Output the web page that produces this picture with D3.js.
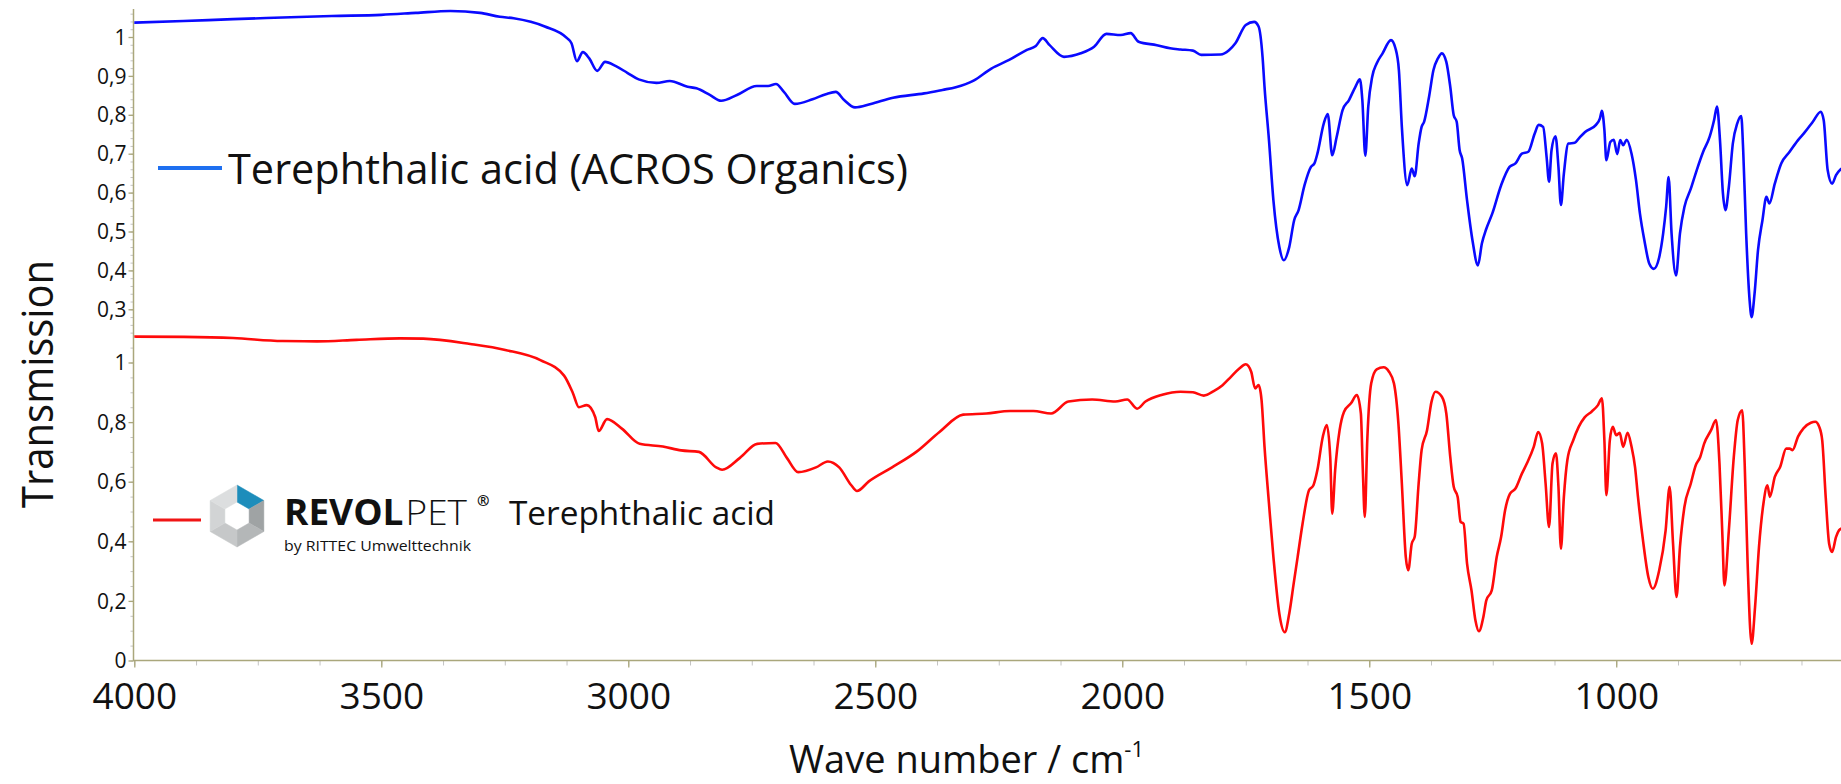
<!DOCTYPE html>
<html>
<head>
<meta charset="utf-8">
<script src="https://cdn.jsdelivr.net/npm/d3@7"></script>
<style>
  html, body { margin: 0; padding: 0; background: #fff; }
  svg { display: block; }
  text { font-family: "Open Sans", "DejaVu Sans", sans-serif; fill: #111; }
</style>
</head>
<body>
<div class="chart"></div>
<script>
// wave numbers (cm-1) and transmission
const acrosWn = [4000, 3900, 3800, 3700, 3600, 3500, 3430, 3360, 3300, 3260, 3232, 3169, 3124, 3115, 3104, 3092, 3079, 3063, 3047, 3025, 3002, 2979, 2943, 2916, 2880, 2862, 2835, 2812, 2780, 2740, 2717, 2701, 2685, 2663, 2627, 2600, 2580, 2563, 2541, 2509, 2464, 2401, 2364, 2337, 2301, 2265, 2229, 2193, 2175, 2161, 2147, 2118, 2084, 2057, 2032, 2003, 1983, 1967, 1930, 1903, 1882,
  1857, 1840, 1801, 1784, 1771, 1750, 1733, 1724, 1716, 1712, 1703, 1694, 1682, 1673, 1662, 1652, 1643, 1631, 1618, 1611, 1605, 1592, 1584, 1575, 1566, 1554, 1541, 1528, 1519, 1514, 1508, 1502, 1494, 1485, 1473, 1456, 1447, 1440, 1434, 1423, 1414, 1408, 1400, 1394, 1389, 1379, 1370, 1361, 1353, 1344, 1336, 1329, 1323, 1317, 1312, 1302, 1291, 1280, 1272, 1263, 1251, 1233, 1216, 1204, 1191, 1178, 1165, 1157, 1148, 1141, 1136, 1131, 1123, 1117, 1112, 1106, 1097, 1084, 1076, 1063, 1041, 1033, 1029, 1024, 1020, 1012, 1005, 998, 992, 986, 979, 969, 960, 952, 943, 933, 924, 913, 905, 899, 894, 888, 879, 871, 862, 849, 837, 824, 811, 802, 796, 790, 784, 779, 772, 764, 755, 747, 743, 737, 730, 726, 720, 713, 704, 696, 690, 679, 666, 649, 632, 619, 602, 586, 580, 572, 563, 555, 544];
const acrosT = [1.037, 1.041, 1.046, 1.050, 1.054, 1.057, 1.062, 1.067, 1.062, 1.052, 1.048, 1.027, 0.997, 0.984, 0.938, 0.961, 0.945, 0.913, 0.936, 0.925, 0.908, 0.891, 0.882, 0.887, 0.872, 0.868, 0.851, 0.836, 0.851, 0.874, 0.874, 0.879, 0.859, 0.828, 0.840, 0.853, 0.859, 0.838, 0.819, 0.828, 0.844, 0.855, 0.864, 0.871, 0.888, 0.919, 0.941, 0.967, 0.977, 0.997, 0.979, 0.949, 0.958, 0.975, 1.008, 1.005, 1.010, 0.988, 0.979, 0.971, 0.968,
  0.965, 0.954, 0.955, 0.966, 0.984, 1.031, 1.039, 1.027, 0.949, 0.872, 0.735, 0.580, 0.460, 0.426, 0.460, 0.529, 0.555, 0.619, 0.666, 0.675, 0.700, 0.778, 0.802, 0.696, 0.743, 0.812, 0.838, 0.872, 0.891, 0.838, 0.695, 0.821, 0.898, 0.932, 0.958, 0.992, 0.971, 0.915, 0.769, 0.619, 0.662, 0.642, 0.726, 0.769, 0.782, 0.846, 0.915, 0.945, 0.958, 0.936, 0.872, 0.799, 0.782, 0.709, 0.688, 0.580, 0.477, 0.413, 0.469, 0.507, 0.546, 0.619, 0.666, 0.675, 0.700, 0.705, 0.752, 0.774, 0.769, 0.692, 0.628, 0.709, 0.745, 0.666, 0.568, 0.649, 0.726, 0.728, 0.739, 0.756, 0.774, 0.791, 0.810, 0.761, 0.683, 0.730, 0.736, 0.699, 0.735, 0.722, 0.736, 0.700, 0.632, 0.546, 0.477, 0.417, 0.404, 0.434, 0.495, 0.563, 0.640, 0.495, 0.387, 0.495, 0.563, 0.610, 0.658, 0.705, 0.743, 0.786, 0.821, 0.735, 0.598, 0.555, 0.615, 0.726, 0.778, 0.797, 0.709, 0.495, 0.323, 0.280, 0.340, 0.452, 0.529, 0.589, 0.572, 0.623, 0.675, 0.705, 0.735, 0.754, 0.782, 0.808, 0.786, 0.658, 0.623, 0.645, 0.662];

const revolWn = [4000, 3900, 3800, 3700, 3630, 3550, 3462, 3415, 3320, 3249, 3178, 3130, 3112, 3100, 3084, 3067, 3060, 3043, 3013, 2977, 2930, 2893, 2857, 2822, 2810, 2774, 2739, 2702, 2679, 2656, 2620, 2596, 2573, 2549, 2537, 2513, 2466, 2417, 2370, 2322, 2275, 2227, 2180, 2144, 2109, 2061, 2014, 1990, 1970, 1953, 1919, 1882,
  1857, 1835, 1814, 1797, 1780, 1763, 1750, 1739, 1731, 1724, 1718, 1712, 1703, 1694, 1682, 1671, 1662, 1653, 1645, 1635, 1622, 1613, 1605, 1594, 1586, 1579, 1575, 1569, 1560, 1551, 1537, 1525, 1517, 1513, 1509, 1504, 1496, 1485, 1471, 1460, 1450, 1441, 1434, 1426, 1421, 1414, 1408, 1400, 1394, 1383, 1374, 1366, 1353, 1344, 1336, 1329, 1321, 1315, 1309, 1302, 1293, 1285, 1278, 1269, 1263, 1252, 1242, 1233, 1225, 1215, 1204, 1191, 1181, 1167, 1158, 1150, 1143, 1136, 1129, 1122, 1117, 1112, 1106, 1099, 1087, 1076, 1064, 1050, 1037, 1029, 1024, 1020, 1013, 1007, 1000, 993, 986, 977, 969, 962, 956, 945, 935, 926, 913, 900, 892, 885, 878, 871, 862, 849, 839, 830, 822, 808, 798, 791, 785, 781, 772, 762, 754, 745, 740, 734, 726, 719, 711, 702, 694, 689, 679, 668, 656, 649, 643, 632, 621, 606, 597, 589, 583, 576, 569, 563, 555, 549, 544];
const revolT = [1.087, 1.086, 1.082, 1.072, 1.071, 1.076, 1.081, 1.080, 1.062, 1.042, 1.008, 0.956, 0.897, 0.850, 0.857, 0.817, 0.770, 0.810, 0.778, 0.727, 0.718, 0.705, 0.700, 0.648, 0.640, 0.680, 0.727, 0.730, 0.680, 0.632, 0.648, 0.668, 0.648, 0.589, 0.569, 0.601, 0.648, 0.700, 0.767, 0.825, 0.829, 0.837, 0.837, 0.829, 0.869, 0.876, 0.869, 0.876, 0.845, 0.869, 0.892, 0.902,
  0.900, 0.889, 0.905, 0.924, 0.952, 0.980, 0.994, 0.969, 0.913, 0.924, 0.874, 0.717, 0.527, 0.347, 0.157, 0.095, 0.157, 0.258, 0.347, 0.459, 0.571, 0.588, 0.639, 0.751, 0.790, 0.683, 0.493, 0.639, 0.773, 0.835, 0.863, 0.891, 0.829, 0.639, 0.482, 0.739, 0.930, 0.977, 0.984, 0.969, 0.930, 0.796, 0.594, 0.347, 0.303, 0.392, 0.415, 0.594, 0.706, 0.773, 0.868, 0.902, 0.885, 0.829, 0.683, 0.583, 0.549, 0.465, 0.459, 0.325, 0.235, 0.134, 0.098, 0.146, 0.202, 0.235, 0.347, 0.415, 0.504, 0.560, 0.577, 0.627, 0.661, 0.717, 0.767, 0.728, 0.594, 0.448, 0.661, 0.695, 0.583, 0.375, 0.549, 0.672, 0.739, 0.784, 0.816, 0.835, 0.857, 0.880, 0.739, 0.555, 0.739, 0.784, 0.756, 0.764, 0.717, 0.764, 0.717, 0.650, 0.549, 0.392, 0.280, 0.241, 0.303, 0.437, 0.583, 0.392, 0.213, 0.381, 0.515, 0.594, 0.655, 0.683, 0.728, 0.773, 0.807, 0.661, 0.415, 0.252, 0.437, 0.683, 0.807, 0.840, 0.661, 0.325, 0.056, 0.179, 0.381, 0.527, 0.588, 0.549, 0.616, 0.650, 0.711, 0.711, 0.706, 0.751, 0.779, 0.798, 0.801, 0.784, 0.739, 0.549, 0.392, 0.364, 0.415, 0.437, 0.443];

const xTicks = [4000, 3500, 3000, 2500, 2000, 1500, 1000];
const topTicks = [0.3, 0.4, 0.5, 0.6, 0.7, 0.8, 0.9, 1];
const bottomTicks = [0, 0.2, 0.4, 0.6, 0.8, 1];
const legendLabels = ["Terephthalic acid (ACROS Organics)", "Terephthalic acid"];

const width = 1841, height = 784;
const axisColor = "#aaa77c";

const svg = d3.select(".chart").append("svg")
    .attr("width", width)
    .attr("height", height);

const x = d3.scaleLinear().domain([4000, 545]).range([134.3, 1841]);
const yTop = d3.scaleLinear().domain([0.3, 1]).range([309.3, 37]);
const yBottom = d3.scaleLinear().domain([0, 1]).range([660.5, 362.5]);

const fmt = d => d === 0 || d === 1 ? String(d) : d.toFixed(1).replace(".", ",");

// minor ticks first so the major ones sit on top
svg.append("g")
    .attr("transform", "translate(0,660.5)")
    .call(d3.axisBottom(x).tickValues(d3.range(4000, 540, -125)).tickSize(5).tickFormat(""))
    .call(g => g.select(".domain").remove())
    .call(g => g.selectAll("line").attr("stroke", "#c4c4c4"));

svg.append("g")
    .attr("transform", "translate(133.5,0)")
    .call(d3.axisLeft(yTop).tickValues(d3.range(0.24, 1.07, 0.02)).tickSize(3).tickFormat(""))
    .call(g => g.select(".domain").remove())
    .call(g => g.selectAll("line").attr("stroke", "#c4c4c4"));

svg.append("g")
    .attr("transform", "translate(133.5,0)")
    .call(d3.axisLeft(yBottom).tickValues(d3.range(0, 1.06, 0.05)).tickSize(3).tickFormat(""))
    .call(g => g.select(".domain").remove())
    .call(g => g.selectAll("line").attr("stroke", "#c4c4c4"));

// axis lines
svg.append("line")
    .attr("x1", 133.5).attr("x2", 133.5).attr("y1", 9).attr("y2", 661)
    .attr("stroke", axisColor).attr("stroke-width", 1.5);
svg.append("line")
    .attr("x1", 133.5).attr("x2", width).attr("y1", 660.5).attr("y2", 660.5)
    .attr("stroke", axisColor).attr("stroke-width", 1.5);

// major ticks and labels
const xAxis = svg.append("g")
    .attr("transform", "translate(0,660.5)")
    .call(d3.axisBottom(x).tickValues(xTicks).tickSize(7).tickFormat(d3.format("d")));
xAxis.select(".domain").remove();
xAxis.selectAll("line").attr("stroke", axisColor).attr("stroke-width", 1.3);
xAxis.selectAll("text")
    .attr("y", 48).attr("dy", 0)
    .style("font-size", "37px")
    .style("font-family", "'Open Sans', sans-serif")
    .attr("fill", "#111");

const yAxes = [[yTop, topTicks], [yBottom, bottomTicks]];
yAxes.forEach(([scale, ticks]) => {
    const g = svg.append("g")
        .attr("transform", "translate(133.5,0)")
        .call(d3.axisLeft(scale).tickValues(ticks).tickSize(5).tickFormat(fmt));
    g.select(".domain").remove();
    g.selectAll("line").attr("stroke", axisColor).attr("stroke-width", 1.3);
    g.selectAll("text")
        .attr("x", -7).attr("dy", "0.34em")
        .style("font-size", "21px")
        .style("font-family", "'Open Sans', sans-serif")
        .attr("fill", "#111");
});

// spectra
const line = yScale => d3.line()
    .x(d => x(d[0]))
    .y(d => yScale(d[1]))
    .curve(d3.curveMonotoneX);

svg.append("path")
    .datum(d3.zip(acrosWn, acrosT))
    .attr("fill", "none")
    .attr("stroke", "#0a0aff")
    .attr("stroke-width", 2.6)
    .attr("stroke-linejoin", "round")
    .attr("d", line(yTop));

svg.append("path")
    .datum(d3.zip(revolWn, revolT))
    .attr("fill", "none")
    .attr("stroke", "#ff0a0a")
    .attr("stroke-width", 2.6)
    .attr("stroke-linejoin", "round")
    .attr("d", line(yBottom));

// axis titles
svg.append("text")
    .attr("transform", "translate(53,384) rotate(-90)")
    .attr("text-anchor", "middle")
    .attr("textLength", 248)
    .attr("lengthAdjust", "spacingAndGlyphs")
    .style("font-size", "44px")
    .text("Transmission");

const xTitle = svg.append("text")
    .attr("x", 789).attr("y", 773)
    .style("font-size", "38px");
xTitle.append("tspan").text("Wave number / cm");
xTitle.append("tspan").attr("dy", -16).style("font-size", "22px").text("-1");

// legend: ACROS
svg.append("line")
    .attr("x1", 158).attr("x2", 222).attr("y1", 168).attr("y2", 168)
    .attr("stroke", "#1e6ff0").attr("stroke-width", 4);
svg.append("text")
    .attr("x", 228).attr("y", 184)
    .attr("textLength", 680)
    .attr("lengthAdjust", "spacingAndGlyphs")
    .style("font-size", "42px")
    .text(legendLabels[0]);

// legend: REVOLPET
svg.append("line")
    .attr("x1", 153).attr("x2", 201).attr("y1", 520).attr("y2", 520)
    .attr("stroke", "#f01515").attr("stroke-width", 3);

const logo = svg.append("g").attr("transform", "translate(237,516)");
const hexColors = ["#1d8dbb", "#9fa3a4", "#b4b7b8", "#c6c8c9", "#d2d4d5", "#dcdedf"];
const corner = (r, k) => {
    const a = (-90 + 60 * k) * Math.PI / 180;
    return [r * Math.cos(a), r * Math.sin(a)];
};
logo.selectAll("path")
    .data(hexColors)
    .enter().append("path")
    .attr("d", (d, k) => "M" + [corner(31, k), corner(31, k + 1), corner(14, k + 1), corner(14, k)].join("L") + "Z")
    .attr("fill", d => d)
    .attr("stroke", d => d)
    .attr("stroke-width", 0.5);

const brand = svg.append("text")
    .attr("x", 284).attr("y", 525)
    .attr("textLength", 183).attr("lengthAdjust", "spacingAndGlyphs")
    .style("font-size", "35px");
brand.append("tspan").style("font-weight", "bold").text("REVOL");
brand.append("tspan").style("font-weight", "300").attr("dx", 2).text("PET");
svg.append("text")
    .attr("x", 477).attr("y", 506)
    .style("font-size", "15px").style("font-weight", "bold")
    .text("®");
svg.append("text")
    .attr("x", 284).attr("y", 551)
    .attr("textLength", 187).attr("lengthAdjust", "spacingAndGlyphs")
    .style("font-size", "15px")
    .text("by RITTEC Umwelttechnik");
svg.append("text")
    .attr("x", 509).attr("y", 525)
    .attr("textLength", 266).attr("lengthAdjust", "spacingAndGlyphs")
    .style("font-size", "33px")
    .text(legendLabels[1]);
</script>
</body>
</html>
